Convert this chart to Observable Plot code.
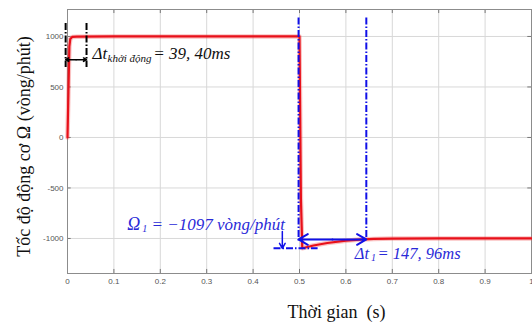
<!DOCTYPE html>
<html>
<head>
<meta charset="utf-8">
<script src="https://cdn.jsdelivr.net/npm/d3@7"></script>
<script src="https://cdn.jsdelivr.net/npm/@observablehq/plot@0.6"></script>
<style>
  html, body { margin: 0; padding: 0; background: #fff; }
  #chart svg { display: block; }
</style>
</head>
<body>
<div id="chart"></div>
<script>
// --- data ---
const timeS    = [0, 0.002, 0.004, 0.006, 0.010, 0.020, 0.100, 0.500, 0.500, 0.503, 0.506, 0.530, 0.560, 0.600, 0.630, 0.660, 0.700, 0.800, 1.000];
const speedRpm = [0, 450, 900, 975, 995, 998, 1000, 1000, 1000, -600, -1097, -1070, -1045, -1022, -1011, -1005, -1001, -1000, -1000];

const xTicks = [0, 0.1, 0.2, 0.3, 0.4, 0.5, 0.6, 0.7, 0.8, 0.9, 1];
const yTicks = [-1000, -500, 0, 500, 1000];
const xDomain = [0, 1];
const yDomain = [-1347, 1267];

// annotation values
const startupLines = [-0.004, 0.041];     // Δt khởi động markers (s)
const startupSpan = [1129, 693];          // vertical extent of black markers
const startupArrowY = 770;
const stepLines = [0.498, 0.644];         // Δt1 markers (s)
const stepLineTop = 1188;
const stepLineBottoms = [-1020, -1000];
const stepArrowY = -1010;
const omega1 = -1097;
const omegaLineX = [0.444, 0.539];
const omegaArrowX = 0.463;
const omegaArrowTop = -930;

const startupTexts = [
  {x: 0.054, y: 772, t: "Δt", s: 17},
  {x: 0.0862, y: 746, t: "khởi động", s: 11},
  {x: 0.185, y: 772, t: "= 39, 40ms", s: 17}
];
const omegaTexts = [
  {x: 0.129, y: -921, t: "Ω", s: 18},
  {x: 0.161, y: -940, t: "1", s: 10},
  {x: 0.181, y: -921, t: "= −1097 vòng/phút", s: 17}
];
const dtTexts = [
  {x: 0.619, y: -1208, t: "Δt", s: 16.5},
  {x: 0.654, y: -1228, t: "1", s: 10},
  {x: 0.668, y: -1208, t: "= 147, 96ms", s: 16.5}
];

const curve = timeS.map((t, i) => ({t, v: speedRpm[i]}));
const blue = "#1010e8";
const txtBlue = "#2a2ad8";
const serif = "'Liberation Serif', 'Times New Roman', serif";
const dashDot = "7,2,1.5,2";

const tickLenX = 0.008, tickLenY = 40;

const plot = Plot.plot({
  width: 532,
  height: 323,
  marginLeft: 67,
  marginRight: 1,
  marginTop: 9,
  marginBottom: 50,
  style: {background: "#fff", overflow: "visible"},
  x: {domain: xDomain},
  y: {domain: yDomain},
  marks: [
    // grid
    Plot.ruleX(xTicks, {stroke: "#d8d8d8", strokeWidth: 1, strokeOpacity: 1}),
    Plot.ruleY(yTicks, {stroke: "#d8d8d8", strokeWidth: 1, strokeOpacity: 1}),
    // inward ticks
    Plot.ruleX(xTicks, {y1: yDomain[1], y2: yDomain[1] - tickLenY, stroke: "#777"}),
    Plot.ruleX(xTicks, {y1: yDomain[0], y2: yDomain[0] + tickLenY, stroke: "#777"}),
    Plot.ruleY(yTicks, {x1: xDomain[0], x2: xDomain[0] + tickLenX, stroke: "#777"}),
    Plot.ruleY(yTicks, {x1: xDomain[1], x2: xDomain[1] - tickLenX, stroke: "#777"}),
    Plot.frame({stroke: "#8c8c8c"}),
    // axes
    Plot.axisX({ticks: xTicks, tickSize: 0, tickPadding: 5, tickFormat: d => String(d), fontSize: 8, fontFamily: "'Liberation Sans', Arial, sans-serif", fill: "#555", label: null}),
    Plot.axisY({ticks: yTicks, tickSize: 0, tickPadding: 4, tickFormat: d => String(d), fontSize: 8, fontFamily: "'Liberation Sans', Arial, sans-serif", fill: "#555", label: null}),
    // speed curve (halo + line)
    Plot.line(curve, {x: "t", y: "v", stroke: "#f05050", strokeWidth: 4.5, strokeOpacity: 0.35}),
    Plot.line(curve, {x: "t", y: "v", stroke: "#e8101a", strokeWidth: 2.2}),
    // startup annotation (black)
    Plot.ruleX(startupLines, {y1: startupSpan[0], y2: startupSpan[1], stroke: "#000", strokeWidth: 2, strokeDasharray: dashDot}),
    Plot.arrow([0], {x1: () => (startupLines[0] + startupLines[1]) / 2, x2: () => startupLines[1], y1: () => startupArrowY, y2: () => startupArrowY, stroke: "#000", strokeWidth: 1.5, headLength: 6}),
    Plot.arrow([0], {x1: () => (startupLines[0] + startupLines[1]) / 2, x2: () => startupLines[0], y1: () => startupArrowY, y2: () => startupArrowY, stroke: "#000", strokeWidth: 1.5, headLength: 6}),
    Plot.text(startupTexts, {x: "x", y: "y", text: "t", fontSize: "s", textAnchor: "start", lineAnchor: "bottom", fontStyle: "italic", fontFamily: serif, fill: "#111"}),
    // step annotation (blue)
    Plot.link(stepLines, {x1: d => d, x2: d => d, y1: () => stepLineTop, y2: (d, i) => stepLineBottoms[i], stroke: blue, strokeWidth: 2, strokeDasharray: dashDot}),
    Plot.arrow([0], {x1: () => (stepLines[0] + stepLines[1]) / 2, x2: () => stepLines[1], y1: () => stepArrowY, y2: () => stepArrowY, stroke: blue, strokeWidth: 2, headLength: 8}),
    Plot.arrow([0], {x1: () => (stepLines[0] + stepLines[1]) / 2, x2: () => stepLines[0], y1: () => stepArrowY, y2: () => stepArrowY, stroke: blue, strokeWidth: 2, headLength: 8}),
    Plot.link([omega1], {x1: () => omegaLineX[0], x2: () => omegaLineX[1], y1: d => d, y2: d => d, stroke: blue, strokeWidth: 2, strokeDasharray: dashDot}),
    Plot.arrow([omega1], {x1: () => omegaArrowX, x2: () => omegaArrowX, y1: () => omegaArrowTop, y2: d => d, stroke: blue, strokeWidth: 1.5, headLength: 7}),
    Plot.text(omegaTexts, {x: "x", y: "y", text: "t", fontSize: "s", textAnchor: "start", lineAnchor: "bottom", fontStyle: "italic", fontFamily: serif, fill: txtBlue}),
    Plot.text(dtTexts, {x: "x", y: "y", text: "t", fontSize: "s", textAnchor: "start", lineAnchor: "bottom", fontStyle: "italic", fontFamily: serif, fill: txtBlue}),
    // axis titles
    Plot.text(["Thời gian  (s)"], {frameAnchor: "bottom", textAnchor: "middle", dx: 37, dy: 44, lineAnchor: "bottom", fontSize: 18, fontFamily: serif, fill: "#111"}),
    Plot.text(["Tốc độ động cơ Ω (vòng/phút)"], {frameAnchor: "left", textAnchor: "middle", dx: -37.5, dy: 5, rotate: -90, lineAnchor: "bottom", fontSize: 18, fontFamily: serif, fill: "#111"})
  ]
});
document.getElementById("chart").appendChild(plot);
</script>
</body>
</html>
